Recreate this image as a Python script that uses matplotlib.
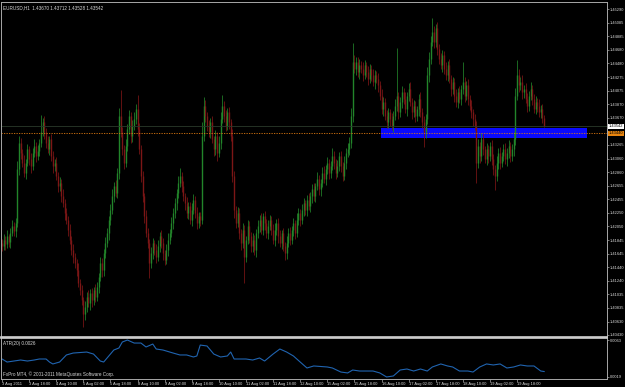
import numpy as np
import matplotlib.pyplot as plt

plt.rcParams['font.family'] = ['Liberation Sans Narrow', 'Liberation Sans', 'DejaVu Sans']

# EURUSD H1, prices in pips above 1.4000
first_open = 180
closes = [
    175, 185, 178, 190, 182, 195, 205, 198, 210, 290,
    330, 315, 300, 285, 300, 320, 305, 295, 315, 325,
    310, 318, 330, 345, 360, 345, 330, 320, 335, 310,
    295, 300, 280, 265, 270, 250, 240, 225, 215, 200,
    185, 170, 160, 150, 140, 120, 110, 95, 75, 85,
    100, 90, 105, 95, 110, 100, 115, 130, 150, 140,
    165, 180, 195, 215, 230, 250, 265, 255, 285, 370,
    345, 320, 300, 325, 350, 370, 340, 355, 365, 380,
    350, 320, 280, 250, 220, 195, 180, 150, 165, 180,
    170, 160, 175, 190, 180, 165, 155, 170, 185, 195,
    210, 225, 240, 255, 270, 280, 265, 250, 240, 225,
    235, 215, 230, 245, 225, 210, 220, 215, 340, 385,
    370, 355, 345, 360, 335, 320, 340, 315, 330, 365,
    385, 370, 355, 375, 360, 340, 280, 230, 210, 225,
    195, 180, 200, 160, 185, 205, 190, 175, 185, 170,
    195, 205, 215, 200, 220, 210, 195, 205, 215, 200,
    185, 200, 210, 190, 180, 195, 175, 165, 180, 195,
    185, 200, 210, 195, 215, 225, 215, 230, 240, 230,
    245, 235, 250, 260, 250, 265, 275, 260, 270, 285,
    275, 290, 300, 285, 295, 310, 300, 285, 295, 310,
    295, 280, 300, 315, 320, 330, 370, 450, 440, 450,
    435, 445, 440, 430, 445, 435, 425, 440, 430, 420,
    430, 425, 415, 400, 380, 390, 370, 360, 375, 365,
    355, 370, 385, 400, 375, 390, 405, 395, 380, 400,
    410, 390, 375, 385, 370, 380, 395, 375, 360, 345,
    365, 430, 455, 480, 495, 480, 500, 470, 455, 445,
    460, 440, 430, 445, 425, 410, 420, 400, 390, 405,
    395, 410, 420, 400, 415, 395, 385, 375, 365, 355,
    300, 325, 310, 335, 320, 305, 320, 310, 325, 305,
    290, 280, 300, 315, 300, 310, 320, 305, 315, 325,
    310, 320, 335, 400, 430, 415, 420, 405, 410, 395,
    385, 400, 410, 395, 380, 390, 385, 375, 380, 367,
    354,
]
hi_wick = [
    6, 8, 5, 9, 4, 7, 10, 6, 8, 12,
    9, 7, 5, 11, 6, 8, 5, 9, 7, 10,
    6, 8, 5, 26, 7, 9, 6, 10, 5, 8,
    7, 5, 9, 6, 8, 5, 10, 6, 7, 5,
    8, 6, 9, 5, 7, 10, 6, 8, 5, 9,
    7, 10, 6, 8, 5, 9, 7, 6, 10, 8,
    6, 9, 7, 5, 8, 10, 6, 9, 7, 12,
    38, 8, 6, 10, 7, 9, 5, 8, 11, 7,
    21, 9, 6, 8, 5, 10, 7, 6, 9, 8,
    5, 8, 10, 6, 9, 7, 5, 8, 10, 6,
    9, 7, 8, 6, 10, 12, 6, 8, 5, 9,
    7, 6, 10, 8, 5, 9, 7, 6, 20, 13,
    8, 6, 9, 7, 10, 5, 8, 6, 9, 11,
    16, 7, 9, 6, 8, 5, 10, 7, 6, 9,
    8, 6, 10, 7, 5, 9, 8, 6, 10, 7,
    6, 9, 7, 10, 5, 8, 6, 9, 7, 5,
    8, 10, 6, 7, 9, 5, 8, 6, 10, 7,
    9, 6, 8, 5, 10, 7, 6, 9, 8, 5,
    7, 10, 6, 8, 9, 5, 11, 7, 6, 8,
    10, 7, 9, 6, 8, 12, 7, 5, 9, 6,
    8, 6, 10, 7, 9, 8, 12, 28, 10, 8,
    7, 9, 6, 10, 8, 5, 9, 7, 6, 10,
    8, 6, 9, 7, 10, 8, 6, 9, 7, 5,
    9, 7, 10, 71, 6, 8, 9, 7, 10, 6,
    8, 10, 6, 9, 7, 5, 8, 10, 6, 9,
    7, 12, 10, 9, 21, 8, 6, 10, 7, 9,
    8, 6, 10, 7, 9, 5, 8, 6, 10, 7,
    9, 6, 30, 8, 7, 10, 6, 9, 5, 8,
    7, 10, 6, 9, 8, 5, 10, 7, 6, 9,
    8, 6, 10, 7, 9, 6, 8, 10, 7, 9,
    6, 8, 10, 12, 23, 9, 7, 10, 6, 8,
    9, 7, 10, 6, 8, 9, 7, 10, 6, 8,
    4,
]
lo_wick = [
    7, 5, 9, 6, 8, 10, 5, 7, 9, 6,
    8, 10, 6, 7, 9, 5, 8, 10, 6, 7,
    9, 6, 8, 7, 5, 10, 8, 6, 9, 7,
    10, 8, 6, 9, 7, 8, 6, 10, 7, 9,
    6, 8, 10, 7, 9, 6, 8, 7, 20, 10,
    8, 6, 9, 10, 7, 8, 6, 9, 7, 10,
    9, 7, 6, 10, 8, 7, 9, 6, 8, 10,
    7, 9, 10, 6, 8, 7, 11, 9, 6, 8,
    10, 7, 9, 8, 10, 6, 8, 22, 7, 9,
    8, 10, 6, 9, 7, 10, 8, 6, 9, 7,
    6, 9, 7, 10, 8, 6, 9, 7, 10, 8,
    9, 7, 10, 6, 8, 9, 7, 10, 6, 8,
    10, 8, 7, 9, 6, 10, 8, 12, 7, 9,
    6, 9, 8, 7, 10, 8, 9, 12, 8, 6,
    9, 10, 7, 40, 8, 6, 10, 8, 9, 7,
    10, 7, 9, 6, 8, 10, 7, 9, 6, 8,
    7, 9, 8, 10, 6, 9, 7, 10, 8, 6,
    8, 7, 10, 9, 6, 8, 10, 7, 9, 8,
    9, 6, 8, 10, 7, 9, 6, 8, 10, 7,
    6, 9, 7, 10, 8, 6, 9, 10, 7, 8,
    9, 8, 6, 10, 7, 9, 8, 10, 7, 9,
    8, 10, 7, 9, 6, 8, 10, 7, 9, 6,
    10, 7, 9, 6, 8, 10, 7, 9, 8, 10,
    7, 9, 6, 8, 10, 7, 9, 8, 6, 10,
    8, 6, 10, 7, 9, 8, 10, 7, 9, 22,
    9, 7, 10, 8, 6, 9, 7, 10, 8, 6,
    10, 8, 7, 9, 6, 10, 8, 9, 7, 8,
    6, 9, 8, 10, 7, 9, 6, 8, 10, 7,
    30, 8, 10, 7, 9, 6, 8, 10, 7, 9,
    8, 21, 7, 9, 10, 6, 8, 7, 10, 8,
    9, 7, 10, 8, 6, 9, 7, 10, 8, 6,
    10, 8, 7, 9, 6, 8, 10, 7, 9, 8,
    1,
]

# ATR(20) readings (bar index, value)
atr_bar = [0, 3, 7, 11, 15, 19, 22, 26, 28, 30, 34, 38, 42, 50, 54, 58, 60, 64, 66,
           69, 71, 74, 78, 82, 85, 89, 91, 95, 101, 105, 109, 113, 115, 117, 121,
           125, 129, 133, 135, 137, 141, 144, 148, 152, 155, 160, 164, 168, 172,
           176, 180, 184, 192, 195, 200, 204, 207, 211, 219, 223, 227, 231, 235,
           239, 243, 247, 251, 254, 259, 263, 266, 270, 275, 278, 282, 286, 290,
           294, 298, 302, 306, 310, 314, 318, 320]
atr_val = [0.00404, 0.00368, 0.00380, 0.00392, 0.00380, 0.00392, 0.00404, 0.00404,
           0.00368, 0.00345, 0.00368, 0.00452, 0.00475, 0.00487, 0.00463, 0.00380,
           0.00368, 0.00463, 0.00511, 0.00535, 0.00606, 0.00630, 0.00594, 0.00594,
           0.00547, 0.00582, 0.00523, 0.00511, 0.00475, 0.00452, 0.00452, 0.00428,
           0.00440, 0.00570, 0.00559, 0.00463, 0.00428, 0.00440, 0.00487, 0.00404,
           0.00404, 0.00404, 0.00392, 0.00416, 0.00380, 0.00463, 0.00523, 0.00487,
           0.00440, 0.00368, 0.00297, 0.00321, 0.00309, 0.00297, 0.00249, 0.00238,
           0.00273, 0.00261, 0.00261, 0.00238, 0.00190, 0.00202, 0.00273, 0.00285,
           0.00261, 0.00285, 0.00261, 0.00309, 0.00345, 0.00321, 0.00309, 0.00261,
           0.00261, 0.00249, 0.00309, 0.00345, 0.00333, 0.00345, 0.00297, 0.00309,
           0.00333, 0.00321, 0.00321, 0.00261, 0.00255]

price_labels = ["1.45290", "1.45085", "1.44885", "1.44680", "1.44480", "1.44275",
                "1.44075", "1.43870", "1.43670", "1.43265", "1.43060", "1.42860",
                "1.42655", "1.42455", "1.42250", "1.42050", "1.41845", "1.41645",
                "1.41440", "1.41240", "1.41035", "1.40835", "1.40630", "1.40430"]
date_labels = ["3 Aug 2011", "3 Aug 18:00", "4 Aug 10:00", "5 Aug 02:00", "5 Aug 18:00",
               "8 Aug 10:00", "9 Aug 02:00", "9 Aug 18:00", "10 Aug 10:00", "11 Aug 02:00",
               "11 Aug 18:00", "12 Aug 10:00", "15 Aug 02:00", "15 Aug 18:00",
               "16 Aug 10:00", "17 Aug 02:00", "17 Aug 18:00", "18 Aug 10:00",
               "19 Aug 02:00", "19 Aug 18:00"]
title = "EURUSD,H1  1.43670 1.43712 1.43528 1.43542"
bid_price = 1.43542
hline_price = 1.43440
rect_bars = (223.7, 345.3)
rect_prices = (1.43367, 1.43516)

c = 1.4 + np.array(closes) / 10000
o = 1.4 + np.array([first_open] + closes[:-1]) / 10000
hi = np.maximum(o, c) + np.array(hi_wick) / 10000
lo = np.minimum(o, c) - np.array(lo_wick) / 10000
idx = np.arange(len(c))
up = c >= o
cols = np.where(up, '#22852a', '#7c1616')

grey = '#a8a8a8'
txt = '#d8d8d8'
fs = 3.6
fs_r = 2.9  # right-hand price scale

fig = plt.figure(figsize=(6.25, 3.87), dpi=100, facecolor='black')
ax = fig.add_axes([1 / 625, 50 / 387, 606 / 625, 335 / 387], facecolor='black')
ax2 = fig.add_axes([1 / 625, 8 / 387, 606 / 625, 41 / 387], facecolor='black')

# candles
ax.vlines(idx, lo, hi, colors=cols, linewidth=0.55)
ax.vlines(idx, np.minimum(o, c), np.maximum(o, c), colors=cols, linewidth=1.0)

# rectangle object and price lines
ax.fill_between(rect_bars, rect_prices[0], rect_prices[1], color='#0a0aff', linewidth=0)
ax.axhline(bid_price, color='#2a3a2a', linewidth=0.6)
ax.axhline(hline_price, color='#e07a10', linewidth=0.6, linestyle=(0, (1.5, 1.5)))

ax.set_xlim(-0.6, 357.1)
ax.set_ylim(1.40400, 1.45395)
ax.set_xticks([])
ax.set_yticks([float(s) for s in price_labels])
ax.set_yticklabels(price_labels)
ax.tick_params(axis='y', left=False, right=True, labelleft=False, labelright=True,
               direction='out', length=1.5, width=0.5, color=grey, labelcolor=txt,
               labelsize=fs_r, pad=0.6)
for s in ax.spines.values():
    s.set_color(grey)
    s.set_linewidth(0.7)
ax.spines['bottom'].set_color('#d0d0d0')
ax.spines['bottom'].set_linewidth(1.2)

ax.text(0.004, 0.99, title, transform=ax.transAxes, fontsize=3.3, color=txt,
        va='top', ha='left')
ax.text(1.003, bid_price, "1.43542", transform=ax.get_yaxis_transform(), fontsize=fs_r,
        color='black', va='center', ha='left', clip_on=False,
        bbox=dict(boxstyle='square,pad=0.1', fc='white', ec='none'))
ax.text(1.003, hline_price, "1.43440", transform=ax.get_yaxis_transform(), fontsize=fs_r,
        color='black', va='center', ha='left', clip_on=False,
        bbox=dict(boxstyle='square,pad=0.1', fc='#e8850f', ec='none'))

# ATR window
ax2.plot(atr_bar, atr_val, color='#2064b0', linewidth=0.8)
ax2.set_xlim(-0.6, 357.1)
ax2.set_ylim(0.00166, 0.00654)
ax2.set_yticks([0.0063, 0.0019])
ax2.set_yticklabels(["0.0063", "0.0019"])
ax2.tick_params(axis='y', left=False, right=True, labelleft=False, labelright=True,
                direction='out', length=1.5, width=0.5, color=grey, labelcolor=txt,
                labelsize=fs_r, pad=0.6)
ax2.set_xticks([16 * k for k in range(len(date_labels))])
ax2.set_xticklabels(date_labels)
ax2.tick_params(axis='x', direction='out', length=2, width=0.5, color=grey,
                labelcolor=txt, labelsize=2.9, pad=0.5)
for lab in ax2.get_xticklabels():
    lab.set_ha('left')
for s in ax2.spines.values():
    s.set_color(grey)
    s.set_linewidth(0.7)
ax2.spines['top'].set_color('#d0d0d0')
ax2.spines['top'].set_linewidth(1.2)
ax2.text(0.004, 0.86, "ATR(20) 0.0026", transform=ax2.transAxes, fontsize=3.3,
         color=txt, va='center', ha='left')
ax2.text(0.004, 0.12, "FxPro MT4, \u00a9 2001-2011 MetaQuotes Software Corp.",
         transform=ax2.transAxes, fontsize=3.3, color=txt, va='center', ha='left')

fig.savefig('out.png', dpi=100, facecolor='black')
